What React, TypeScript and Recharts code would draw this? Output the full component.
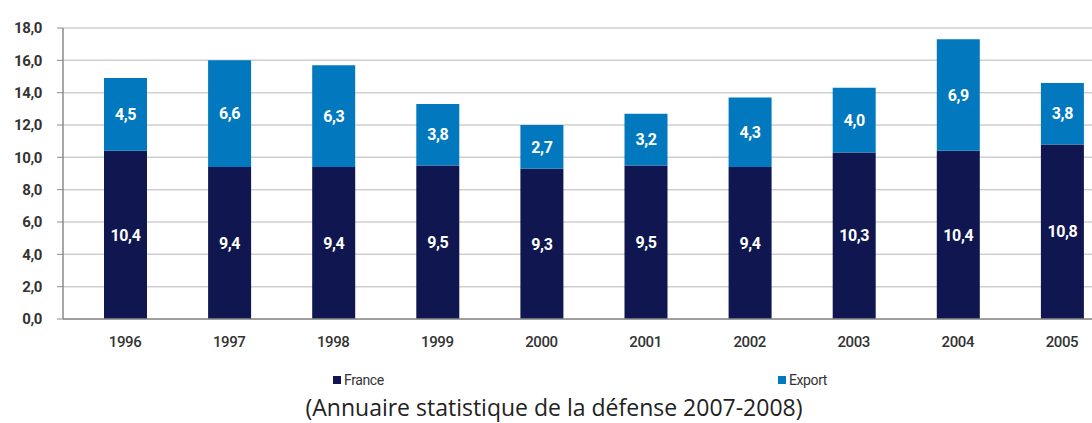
import { Bar, BarChart, CartesianGrid, LabelList, XAxis, YAxis } from "recharts";

const years = ["1996", "1997", "1998", "1999", "2000", "2001", "2002", "2003", "2004", "2005"];
const france = [10.4, 9.4, 9.4, 9.5, 9.3, 9.5, 9.4, 10.3, 10.4, 10.8];
const exportValues = [4.5, 6.6, 6.3, 3.8, 2.7, 3.2, 4.3, 4.0, 6.9, 3.8];
const yTicks = [0, 2, 4, 6, 8, 10, 12, 14, 16, 18];

const FRANCE_COLOR = "#10164f";
const EXPORT_COLOR = "#0279be";

const data = years.map((year, i) => ({
  year,
  france: france[i],
  export: exportValues[i],
}));

const fmt = (v: number) => v.toFixed(1).replace(".", ",");

const narrowText = { fontFamily: "Roboto, sans-serif", letterSpacing: "-0.4px" };

export default function App() {
  return (
    <div
      style={{
        position: "absolute",
        left: 0,
        top: 0,
        width: 1092,
        height: 423,
        overflow: "hidden",
        background: "#fff",
      }}
    >
      <BarChart
        width={1114}
        height={423}
        data={data}
        margin={{ top: 28, right: 0, left: 0, bottom: 74 }}
      >
        <CartesianGrid vertical={false} stroke="#cfcfcf" strokeWidth={1.5} />
        <XAxis
          dataKey="year"
          height={30}
          padding={{ left: 10, right: 0 }}
          tickLine={false}
          tickSize={0}
          tickMargin={17}
          axisLine={{ stroke: "#8a8a8a", strokeWidth: 1.5 }}
          tick={{ fill: "#333", fontSize: 15, fontWeight: 500, style: narrowText }}
        />
        <YAxis
          width={63}
          domain={[0, 18]}
          ticks={yTicks}
          interval={0}
          tickFormatter={fmt}
          tickSize={6}
          tickMargin={15}
          axisLine={{ stroke: "#8a8a8a", strokeWidth: 1.5 }}
          tickLine={{ stroke: "#8a8a8a" }}
          tick={{ fill: "#333", fontSize: 15, fontWeight: 700, style: narrowText }}
        />
        <Bar dataKey="france" stackId="a" fill={FRANCE_COLOR} barSize={43} isAnimationActive={false}>
          <LabelList
            dataKey="france"
            position="center"
            formatter={(v: any) => fmt(Number(v))}
            style={{ fill: "#fff", fontSize: 16, fontWeight: 700, ...narrowText }}
          />
        </Bar>
        <Bar dataKey="export" stackId="a" fill={EXPORT_COLOR} barSize={43} isAnimationActive={false}>
          <LabelList
            dataKey="export"
            position="center"
            formatter={(v: any) => fmt(Number(v))}
            style={{ fill: "#fff", fontSize: 16, fontWeight: 700, ...narrowText }}
          />
        </Bar>
      </BarChart>

      <div style={{ position: "absolute", left: 333, top: 372, display: "flex", alignItems: "center", fontSize: 14, color: "#333", ...narrowText }}>
        <span style={{ width: 8, height: 8, background: FRANCE_COLOR, marginRight: 3 }} />
        France
      </div>
      <div style={{ position: "absolute", left: 778, top: 372, display: "flex", alignItems: "center", fontSize: 14, color: "#333", ...narrowText }}>
        <span style={{ width: 8, height: 8, background: EXPORT_COLOR, marginRight: 3 }} />
        Export
      </div>
      <div
        style={{
          position: "absolute",
          left: 0,
          width: 1108,
          top: 391,
          textAlign: "center",
          fontFamily: "'Open Sans', sans-serif",
          fontSize: 23,
          color: "#222",
        }}
      >
        (Annuaire statistique de la défense 2007-2008)
      </div>
    </div>
  );
}
